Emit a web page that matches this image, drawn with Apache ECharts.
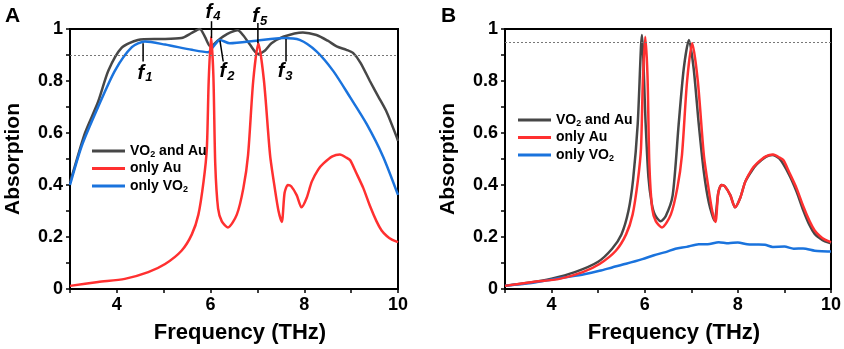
<!DOCTYPE html>
<html>
<head>
<meta charset="utf-8">
<script src="https://cdn.jsdelivr.net/npm/echarts@6/dist/echarts.min.js"></script>
<style>
html, body { margin: 0; padding: 0; background: #fff; }
#chart { width: 844px; height: 349px; }
</style>
</head>
<body>
<div id="chart"></div>
<script>
// tick labels
var xLabels = [4, 6, 8, 10];
var yLabels = [0, 0.2, 0.4, 0.6, 0.8, 1];

// only Au (same curve in both panels)
var auX = [3.0, 3.6, 4.17, 4.67, 5.03, 5.38, 5.6, 5.74, 5.85, 5.92, 5.96, 6.01, 6.06, 6.1, 6.16, 6.24, 6.37, 6.56, 6.7, 6.8, 6.91, 7.02, 7.14, 7.27, 7.37, 7.45, 7.52, 7.58, 7.65, 7.72, 7.84, 7.94, 8.05, 8.16, 8.3, 8.41, 8.6, 8.76, 8.9, 8.98, 9.1, 9.26, 9.4, 9.54, 9.65, 9.76, 9.87, 10.0];
var auY = [0.012, 0.027, 0.039, 0.065, 0.096, 0.147, 0.21, 0.286, 0.413, 0.54, 0.8, 0.97, 0.82, 0.48, 0.31, 0.26, 0.237, 0.286, 0.388, 0.515, 0.8, 0.945, 0.8, 0.515, 0.388, 0.3, 0.258, 0.37, 0.40, 0.395, 0.36, 0.314, 0.35, 0.413, 0.46, 0.483, 0.51, 0.517, 0.505, 0.495, 0.45, 0.388, 0.32, 0.261, 0.225, 0.204, 0.19, 0.18];

// panel A: VO2 and Au
var bothAX = [3.0, 3.1, 3.32, 3.6, 3.82, 4.1, 4.45, 4.8, 5.03, 5.38, 5.6, 5.77, 5.88, 6.0, 6.15, 6.35, 6.58, 6.7, 6.84, 7.01, 7.15, 7.3, 7.55, 7.97, 8.26, 8.5, 8.69, 8.9, 9.04, 9.2, 9.4, 9.58, 9.76, 9.97, 10.0];
var bothAY = [0.41, 0.47, 0.60, 0.72, 0.84, 0.927, 0.958, 0.962, 0.962, 0.965, 0.985, 1.0, 0.97, 0.932, 0.955, 0.98, 0.995, 0.975, 0.94, 0.904, 0.915, 0.945, 0.97, 0.987, 0.977, 0.955, 0.933, 0.92, 0.908, 0.87, 0.80, 0.74, 0.68, 0.585, 0.57];

// panel A: only VO2
var vo2AX = [3.0, 3.25, 3.6, 3.96, 4.32, 4.6, 5.03, 5.6, 5.95, 6.05, 6.2, 6.41, 6.98, 7.55, 7.9, 8.26, 8.62, 8.98, 9.33, 9.68, 10.0];
var vo2AY = [0.40, 0.55, 0.70, 0.84, 0.93, 0.952, 0.94, 0.92, 0.911, 0.93, 0.958, 0.945, 0.955, 0.965, 0.958, 0.914, 0.838, 0.737, 0.635, 0.51, 0.362];

// panel B: VO2 and Au
var bothBX = [3.0, 3.5, 4.0, 4.5, 5.0, 5.3, 5.5, 5.65, 5.75, 5.85, 5.94, 6.02, 6.08, 6.15, 6.22, 6.34, 6.45, 6.6, 6.73, 6.84, 6.95, 7.05, 7.16, 7.27, 7.38, 7.5, 7.58, 7.65, 7.72, 7.84, 7.94, 8.05, 8.16, 8.3, 8.41, 8.6, 8.74, 8.9, 9.1, 9.26, 9.4, 9.54, 9.65, 9.76, 9.87, 10.0];
var bothBY = [0.013, 0.024, 0.04, 0.065, 0.105, 0.155, 0.21, 0.3, 0.42, 0.635, 0.977, 0.635, 0.43, 0.33, 0.285, 0.261, 0.28, 0.36, 0.635, 0.85, 0.958, 0.85, 0.635, 0.45, 0.33, 0.262, 0.37, 0.40, 0.395, 0.36, 0.314, 0.35, 0.413, 0.455, 0.48, 0.508, 0.515, 0.5, 0.44, 0.375, 0.305, 0.245, 0.212, 0.195, 0.183, 0.176];

// panel B: only VO2
var vo2BX = [3.0, 3.3, 3.6, 3.96, 4.3, 4.7, 5.03, 5.3, 5.6, 5.95, 6.2, 6.45, 6.66, 6.9, 7.16, 7.35, 7.59, 7.8, 8.0, 8.2, 8.4, 8.58, 8.75, 9.0, 9.2, 9.4, 9.65, 9.8, 10.0];
var vo2BY = [0.012, 0.018, 0.024, 0.035, 0.045, 0.057, 0.07, 0.083, 0.097, 0.115, 0.13, 0.142, 0.155, 0.162, 0.172, 0.172, 0.18, 0.176, 0.179, 0.172, 0.171, 0.17, 0.162, 0.163, 0.155, 0.156, 0.147, 0.145, 0.144];

var refA = 0.9, refB = 0.95;

// f1..f5 markers in panel A (data coords)
var notes = [
    {n: '1', from: [4.56, 0.945], to: [4.56, 0.875], at: [4.6, 0.83]},
    {n: '2', from: [6.2, 0.955], to: [6.27, 0.875], at: [6.35, 0.835]},
    {n: '3', from: [7.61, 0.962], to: [7.61, 0.875], at: [7.59, 0.835]},
    {n: '4', from: [6.02, 1.03], to: [6.02, 0.965], at: [6.05, 1.065]},
    {n: '5', from: [7.01, 1.023], to: [7.01, 0.945], at: [7.05, 1.047]}
];

var FONT = 'Liberation Sans, Arial, sans-serif';
var GRAY = '#474747', RED = '#ff3030', BLUE = '#1a73dd';

function zip(xs, ys) {
    return xs.map(function (x, i) { return [x, ys[i]]; });
}

function xAxisOf(i) {
    return {
        type: 'value', gridIndex: i, min: 3, max: 10, interval: 1,
        name: 'Frequency (THz)', nameLocation: 'middle', nameGap: 33,
        nameTextStyle: {fontFamily: FONT, fontSize: 22, fontWeight: 'bold', color: '#000', padding: [0, 0, 0, 12]},
        axisLine: {lineStyle: {color: '#000', width: 2}},
        axisTick: {length: 4, lineStyle: {color: '#000', width: 1.5}},
        splitLine: {show: false},
        axisLabel: {
            margin: 7, fontFamily: FONT, fontSize: 18, fontWeight: 'bold', color: '#000',
            formatter: function (v) { return xLabels.indexOf(Math.round(v)) >= 0 ? String(Math.round(v)) : ''; }
        }
    };
}

function yAxisOf(i) {
    return {
        type: 'value', gridIndex: i, min: 0, max: 1, interval: 0.1,
        name: 'Absorption', nameLocation: 'middle', nameGap: 46,
        nameTextStyle: {fontFamily: FONT, fontSize: 21, fontWeight: 'bold', color: '#000'},
        axisLine: {show: true, lineStyle: {color: '#000', width: 2}},
        axisTick: {show: true, length: 4, lineStyle: {color: '#000', width: 1.5}},
        splitLine: {show: false},
        axisLabel: {
            margin: 7, fontFamily: FONT, fontSize: 18, fontWeight: 'bold', color: '#000',
            formatter: function (v) {
                var r = Math.round(v * 10) / 10;
                return yLabels.indexOf(r) >= 0 ? String(r) : '';
            }
        }
    };
}

function lineSeries(name, i, data, color, ref) {
    var s = {
        name: name, type: 'line', xAxisIndex: i, yAxisIndex: i,
        data: data, showSymbol: false, smooth: 0.25,
        lineStyle: {color: color, width: 2.5}, itemStyle: {color: color},
        z: 3
    };
    if (ref != null) {
        s.markLine = {
            silent: true, symbol: 'none', label: {show: false},
            lineStyle: {color: '#777', type: [2, 2], width: 1},
            data: [{yAxis: ref}]
        };
    }
    return s;
}

function legendOf(left, top) {
    return {
        orient: 'vertical', left: left, top: top, icon: 'rect',
        itemWidth: 33, itemHeight: 3, itemGap: 1.5,
        data: ['VO2 and Au', 'only Au', 'only VO2'],
        formatter: function (name) { return name.replace('VO2', 'VO{s|2}'); },
        textStyle: {
            fontFamily: FONT, fontSize: 14, fontWeight: 'bold', color: '#000', lineHeight: 16,
            rich: {s: {fontFamily: FONT, fontSize: 9, fontWeight: 'bold', color: '#000', padding: [7, 0, 0, 0], lineHeight: 16}}
        }
    };
}

var chart = echarts.init(document.getElementById('chart'));

var option = {
    animation: false,
    backgroundColor: '#fff',
    grid: [
        {left: 70, top: 29, width: 328, height: 263, show: true, borderColor: '#000', borderWidth: 2},
        {left: 505, top: 29, width: 328, height: 263, show: true, borderColor: '#000', borderWidth: 2}
    ],
    xAxis: [xAxisOf(0), xAxisOf(1)],
    yAxis: [yAxisOf(0), yAxisOf(1)],
    legend: [legendOf(87, 138), legendOf(513, 107)],
    series: [
        lineSeries('VO2 and Au', 0, zip(bothAX, bothAY), GRAY, refA),
        lineSeries('only VO2', 0, zip(vo2AX, vo2AY), BLUE),
        lineSeries('only Au', 0, zip(auX, auY), RED),
        lineSeries('VO2 and Au', 1, zip(bothBX, bothBY), GRAY, refB),
        lineSeries('only VO2', 1, zip(vo2BX, vo2BY), BLUE),
        lineSeries('only Au', 1, zip(auX, auY), RED)
    ]
};

chart.setOption(option);

var graphics = [
    {type: 'text', left: 5, top: 6, style: {text: 'A', font: 'bold 21px ' + FONT, fill: '#000'}},
    {type: 'text', left: 441, top: 6, style: {text: 'B', font: 'bold 21px ' + FONT, fill: '#000'}}
];
notes.forEach(function (o) {
    var p1 = chart.convertToPixel({gridIndex: 0}, o.from);
    var p2 = chart.convertToPixel({gridIndex: 0}, o.to);
    var pt = chart.convertToPixel({gridIndex: 0}, o.at);
    graphics.push({
        type: 'line', z: 10,
        shape: {x1: p1[0], y1: p1[1], x2: p2[0], y2: p2[1]},
        style: {stroke: '#000', lineWidth: 1.5}
    });
    graphics.push({
        type: 'text', z: 10, x: pt[0], y: pt[1],
        style: {
            text: '{f|f}{n|' + o.n + '}', align: 'center', verticalAlign: 'middle',
            rich: {
                f: {font: 'italic bold 20px ' + FONT, fill: '#000'},
                n: {font: 'italic bold 13px ' + FONT, fill: '#000', padding: [9, 0, 0, 1]}
            }
        }
    });
});
chart.setOption({graphic: graphics});

window.addEventListener('resize', function () {
    chart.resize();
});
</script>
</body>
</html>
